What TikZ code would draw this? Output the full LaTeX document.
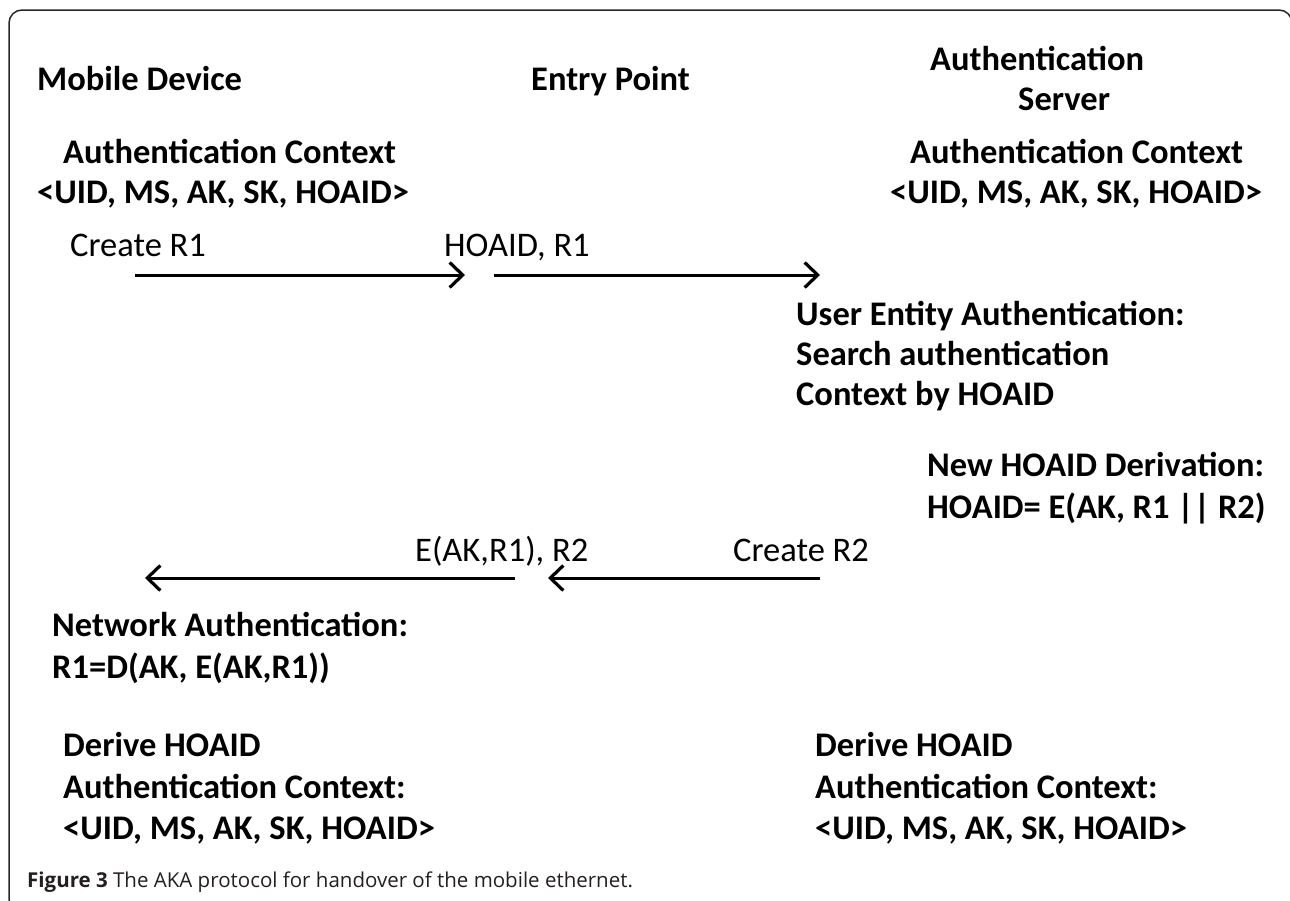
\documentclass[tikz,border=0pt]{standalone}
\usepackage{fontspec}
\setmainfont{Carlito}
\newfontfamily\capfont{Open Sans}
\usetikzlibrary{arrows.meta}
\definecolor{capgray}{HTML}{231F20}
\tikzset{
  lbl/.style={anchor=base west,inner sep=0pt,font=\fontsize{34.5}{40}\selectfont\bfseries},
  msg/.style={anchor=base west,inner sep=0pt,font=\fontsize{34.5}{40}\selectfont},
  flow/.style={line width=3pt,-{Straight Barb[length=13pt,width=25pt,line width=3.2pt]}},
  frame/.style={draw=black!85,line width=1.5pt,rounded corners=13pt}
}
\begin{document}
\begin{tikzpicture}[x=1pt,y=-1pt]
\useasboundingbox (0,0) rectangle (1290,900);
\clip (0,0) rectangle (1290,900);
\draw[frame] (9,10) rectangle (1292,912);
% headers
\node[lbl] (md) at (37,90) {Mobile Device};
\node[lbl] (ep) at (531,90) {Entry Point};
\node[lbl] (as1) at (930,70) {Authentication};
\node[lbl] (as2) at (1018,110) {Server};
% contexts
\node[lbl] (lc1) at (63,163) {Authentication Context};
\node[lbl] (lc2) at (37,203) {<UID, MS, AK, SK, HOAID>};
\node[lbl] (rc1) at (910,163) {Authentication Context};
\node[lbl] (rc2) at (890,203) {<UID, MS, AK, SK, HOAID>};
% messages 1
\node[msg] (cr1) at (70,256) {Create R1};
\node[msg] (hr1) at (444,256) {HOAID, R1};
\coordinate (a1s) at (135,275);
\coordinate (a1e) at (465,275);
\coordinate (a2s) at (494,275);
\coordinate (a2e) at (820,275);
\draw[flow] (a1s) -- (a1e);
\draw[flow] (a2s) -- (a2e);
% server processing
\node[lbl] (ue1) at (796,325) {User Entity Authentication:};
\node[lbl] (ue2) at (796,365) {Search authentication};
\node[lbl] (ue3) at (796,405) {Context by HOAID};
\node[lbl] (nh1) at (927,476) {New HOAID Derivation:};
\node[lbl] (nh2) at (927,518) {HOAID= E(AK, R1 || R2)};
% messages 2
\node[msg] (ea) at (415,561) {E(AK,R1), R2};
\node[msg] (cr2) at (733,561) {Create R2};
\coordinate (a3s) at (820,578);
\coordinate (a3e) at (548,578);
\coordinate (a4s) at (515,578);
\coordinate (a4e) at (145,578);
\draw[flow] (a3s) -- (a3e);
\draw[flow] (a4s) -- (a4e);
% mobile processing
\node[lbl] (na1) at (52,636) {Network Authentication:};
\node[lbl] (na2) at (52,678) {R1=D(AK, E(AK,R1))};
% final
\node[lbl] (ld1) at (63,756) {Derive HOAID};
\node[lbl] (ld2) at (63,798) {Authentication Context:};
\node[lbl] (ld3) at (63,839) {<UID, MS, AK, SK, HOAID>};
\node[lbl] (rd1) at (815,756) {Derive HOAID};
\node[lbl] (rd2) at (815,798) {Authentication Context:};
\node[lbl] (rd3) at (815,839) {<UID, MS, AK, SK, HOAID>};
% caption
\node[anchor=base west,inner sep=0pt,text=capgray,font=\capfont\fontsize{20.5}{24}\selectfont] (cap) at (27,887) {\textbf{Figure 3} The AKA protocol for handover of the mobile ethernet.};
\end{tikzpicture}
\end{document}
